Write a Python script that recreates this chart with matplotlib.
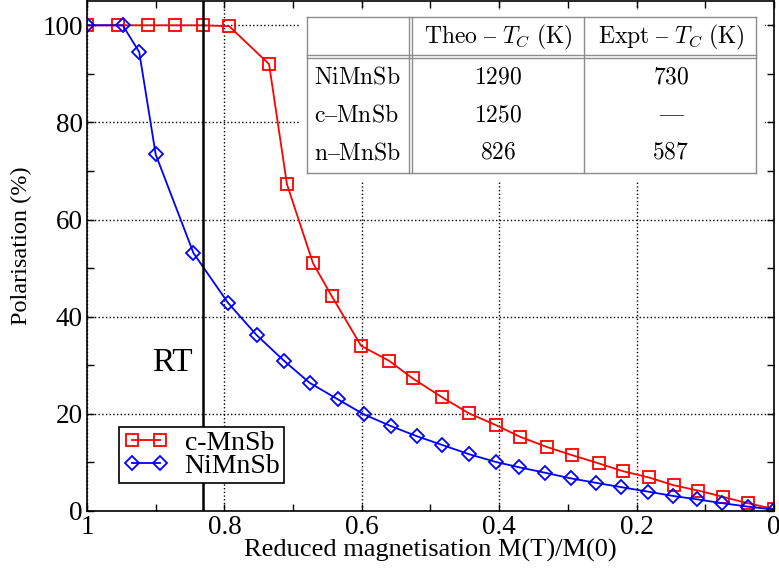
import matplotlib
matplotlib.use("Agg")
import matplotlib.pyplot as plt
from matplotlib.ticker import MultipleLocator
from matplotlib.patches import Rectangle

plt.rcParams['font.family'] = ['Liberation Serif', 'DejaVu Serif']
plt.rcParams['mathtext.fontset'] = 'cm'

# c-MnSb (red squares)
mnsb_x = [1.0, 0.955, 0.911, 0.872, 0.831, 0.793, 0.735, 0.709, 0.671, 0.644, 0.601,
          0.560, 0.526, 0.483, 0.444, 0.405, 0.370, 0.331, 0.294, 0.255, 0.220, 0.182,
          0.146, 0.110, 0.074, 0.038, 0.0]
mnsb_y = [100, 100, 100, 100, 100, 99.8, 92, 67.3, 51, 44.3, 34.0, 30.9, 27.3, 23.4,
          20.1, 17.7, 15.3, 13.2, 11.5, 9.8, 8.2, 6.9, 5.3, 4.2, 2.9, 1.6, 0.4]

# NiMnSb (blue diamonds)
nimnsb_x = [1.0, 0.948, 0.924, 0.900, 0.845, 0.795, 0.753, 0.713, 0.676, 0.635, 0.597,
            0.558, 0.520, 0.483, 0.444, 0.405, 0.371, 0.334, 0.295, 0.259, 0.222, 0.184,
            0.147, 0.112, 0.075, 0.038, 0.0]
nimnsb_y = [100, 100, 94.5, 73.4, 53.1, 42.9, 36.2, 30.9, 26.4, 23.0, 19.9, 17.5, 15.4,
            13.6, 11.7, 10.1, 9.0, 7.9, 6.7, 5.8, 4.9, 4.0, 3.1, 2.4, 1.6, 0.9, 0.3]

rt_x = 0.831

table_header = [r'$\mathrm{Theo\ –\ }T_C\ \mathrm{(K)}$', r'$\mathrm{Expt\ –\ }T_C\ \mathrm{(K)}$']
table_rows = [r'$\mathrm{NiMnSb}$', r'$\mathrm{c–MnSb}$', r'$\mathrm{n–MnSb}$']
theo_tc = ['1290', '1250', '826']
expt_tc = ['730', '—', '587']

fig = plt.figure(figsize=(7.79, 5.71), dpi=100)
ax = fig.add_axes([87/779, 60/571, 687/779, 510/571])

ax.plot(mnsb_x, mnsb_y, color='red', lw=1.3, marker='s', ms=8, mfc='none', mew=1.3, label='c-MnSb')
ax.plot(nimnsb_x, nimnsb_y, color='blue', lw=1.3, marker='D', ms=7.5, mfc='none', mew=1.3, label='NiMnSb')
ax.axvline(rt_x, color='black', lw=1.8)
ax.text(0.876, 30.5, 'RT', fontsize=24, ha='center', va='center')

ax.set_xlim(1, 0)
ax.set_ylim(0, 105)
ax.xaxis.set_major_locator(MultipleLocator(0.2))
ax.xaxis.set_minor_locator(MultipleLocator(0.1))
ax.yaxis.set_major_locator(MultipleLocator(20))
ax.yaxis.set_minor_locator(MultipleLocator(10))
ax.set_xticks([1, 0.8, 0.6, 0.4, 0.2, 0])
ax.set_xticklabels(['1', '0.8', '0.6', '0.4', '0.2', '0'])
ax.tick_params(which='both', direction='in', top=True, right=True, labelsize=19.5, length=5, width=1, pad=3)
ax.grid(True, which='major', linestyle=':', color='black', lw=1)
ax.set_xlabel('Reduced magnetisation M(T)/M(0)', fontsize=19, labelpad=-1)
ax.set_ylabel('Polarisation (%)', fontsize=17.5)
ax.yaxis.set_label_coords(-0.08, 0.52)
for s in ax.spines.values():
    s.set_linewidth(1.2)

leg = ax.legend(loc='lower left', bbox_to_anchor=(0.047, 0.055), fontsize=20, numpoints=2,
                fancybox=False, edgecolor='black', framealpha=1, handlelength=1.6,
                borderpad=0.15, labelspacing=-0.1, handletextpad=0.6, borderaxespad=0)
leg.get_frame().set_linewidth(1.2)

# inset table
def fx(px):
    return (px - 87) / 687

def fy(py):
    return (511 - py) / 510

tl, tr, c1a, c1b, c2 = fx(307), fx(756), fx(409), fx(411.5), fx(584)
tt, hb1, hb2, tb = fy(17), fy(55), fy(58), fy(173)
ax.add_patch(Rectangle((fx(300), fy(180)), fx(764) - fx(300), fy(10) - fy(180),
                       transform=ax.transAxes, color='white', zorder=5))
gray = '#8c8c8c'
for x in [tl, c1a, c1b, c2, tr]:
    ax.plot([x, x], [tb, tt], transform=ax.transAxes, color=gray, lw=1, zorder=6)
for y in [tt, hb1, hb2, tb]:
    ax.plot([tl, tr], [y, y], transform=ax.transAxes, color=gray, lw=1, zorder=6)

col_x = [fx(498), fx(671)]
for i, h in enumerate(table_header):
    ax.text(col_x[i], fy(37), h, transform=ax.transAxes, ha='center', va='center', fontsize=17, zorder=7)
row_y = [fy(78), fy(116), fy(153)]
for i, name in enumerate(table_rows):
    ax.text(fx(314), row_y[i], name, transform=ax.transAxes, ha='left', va='center', fontsize=17, zorder=7)
    ax.text(col_x[0], row_y[i], r'$\mathrm{%s}$' % theo_tc[i], transform=ax.transAxes,
            ha='center', va='center', fontsize=17, zorder=7)
    if expt_tc[i] == '—':
        ax.text(col_x[1], row_y[i], expt_tc[i], transform=ax.transAxes, ha='center', va='center',
                fontsize=17, zorder=7, color='#333333')
    else:
        ax.text(col_x[1], row_y[i], r'$\mathrm{%s}$' % expt_tc[i], transform=ax.transAxes,
                ha='center', va='center', fontsize=17, zorder=7)

fig.savefig('out.png', dpi=100)
